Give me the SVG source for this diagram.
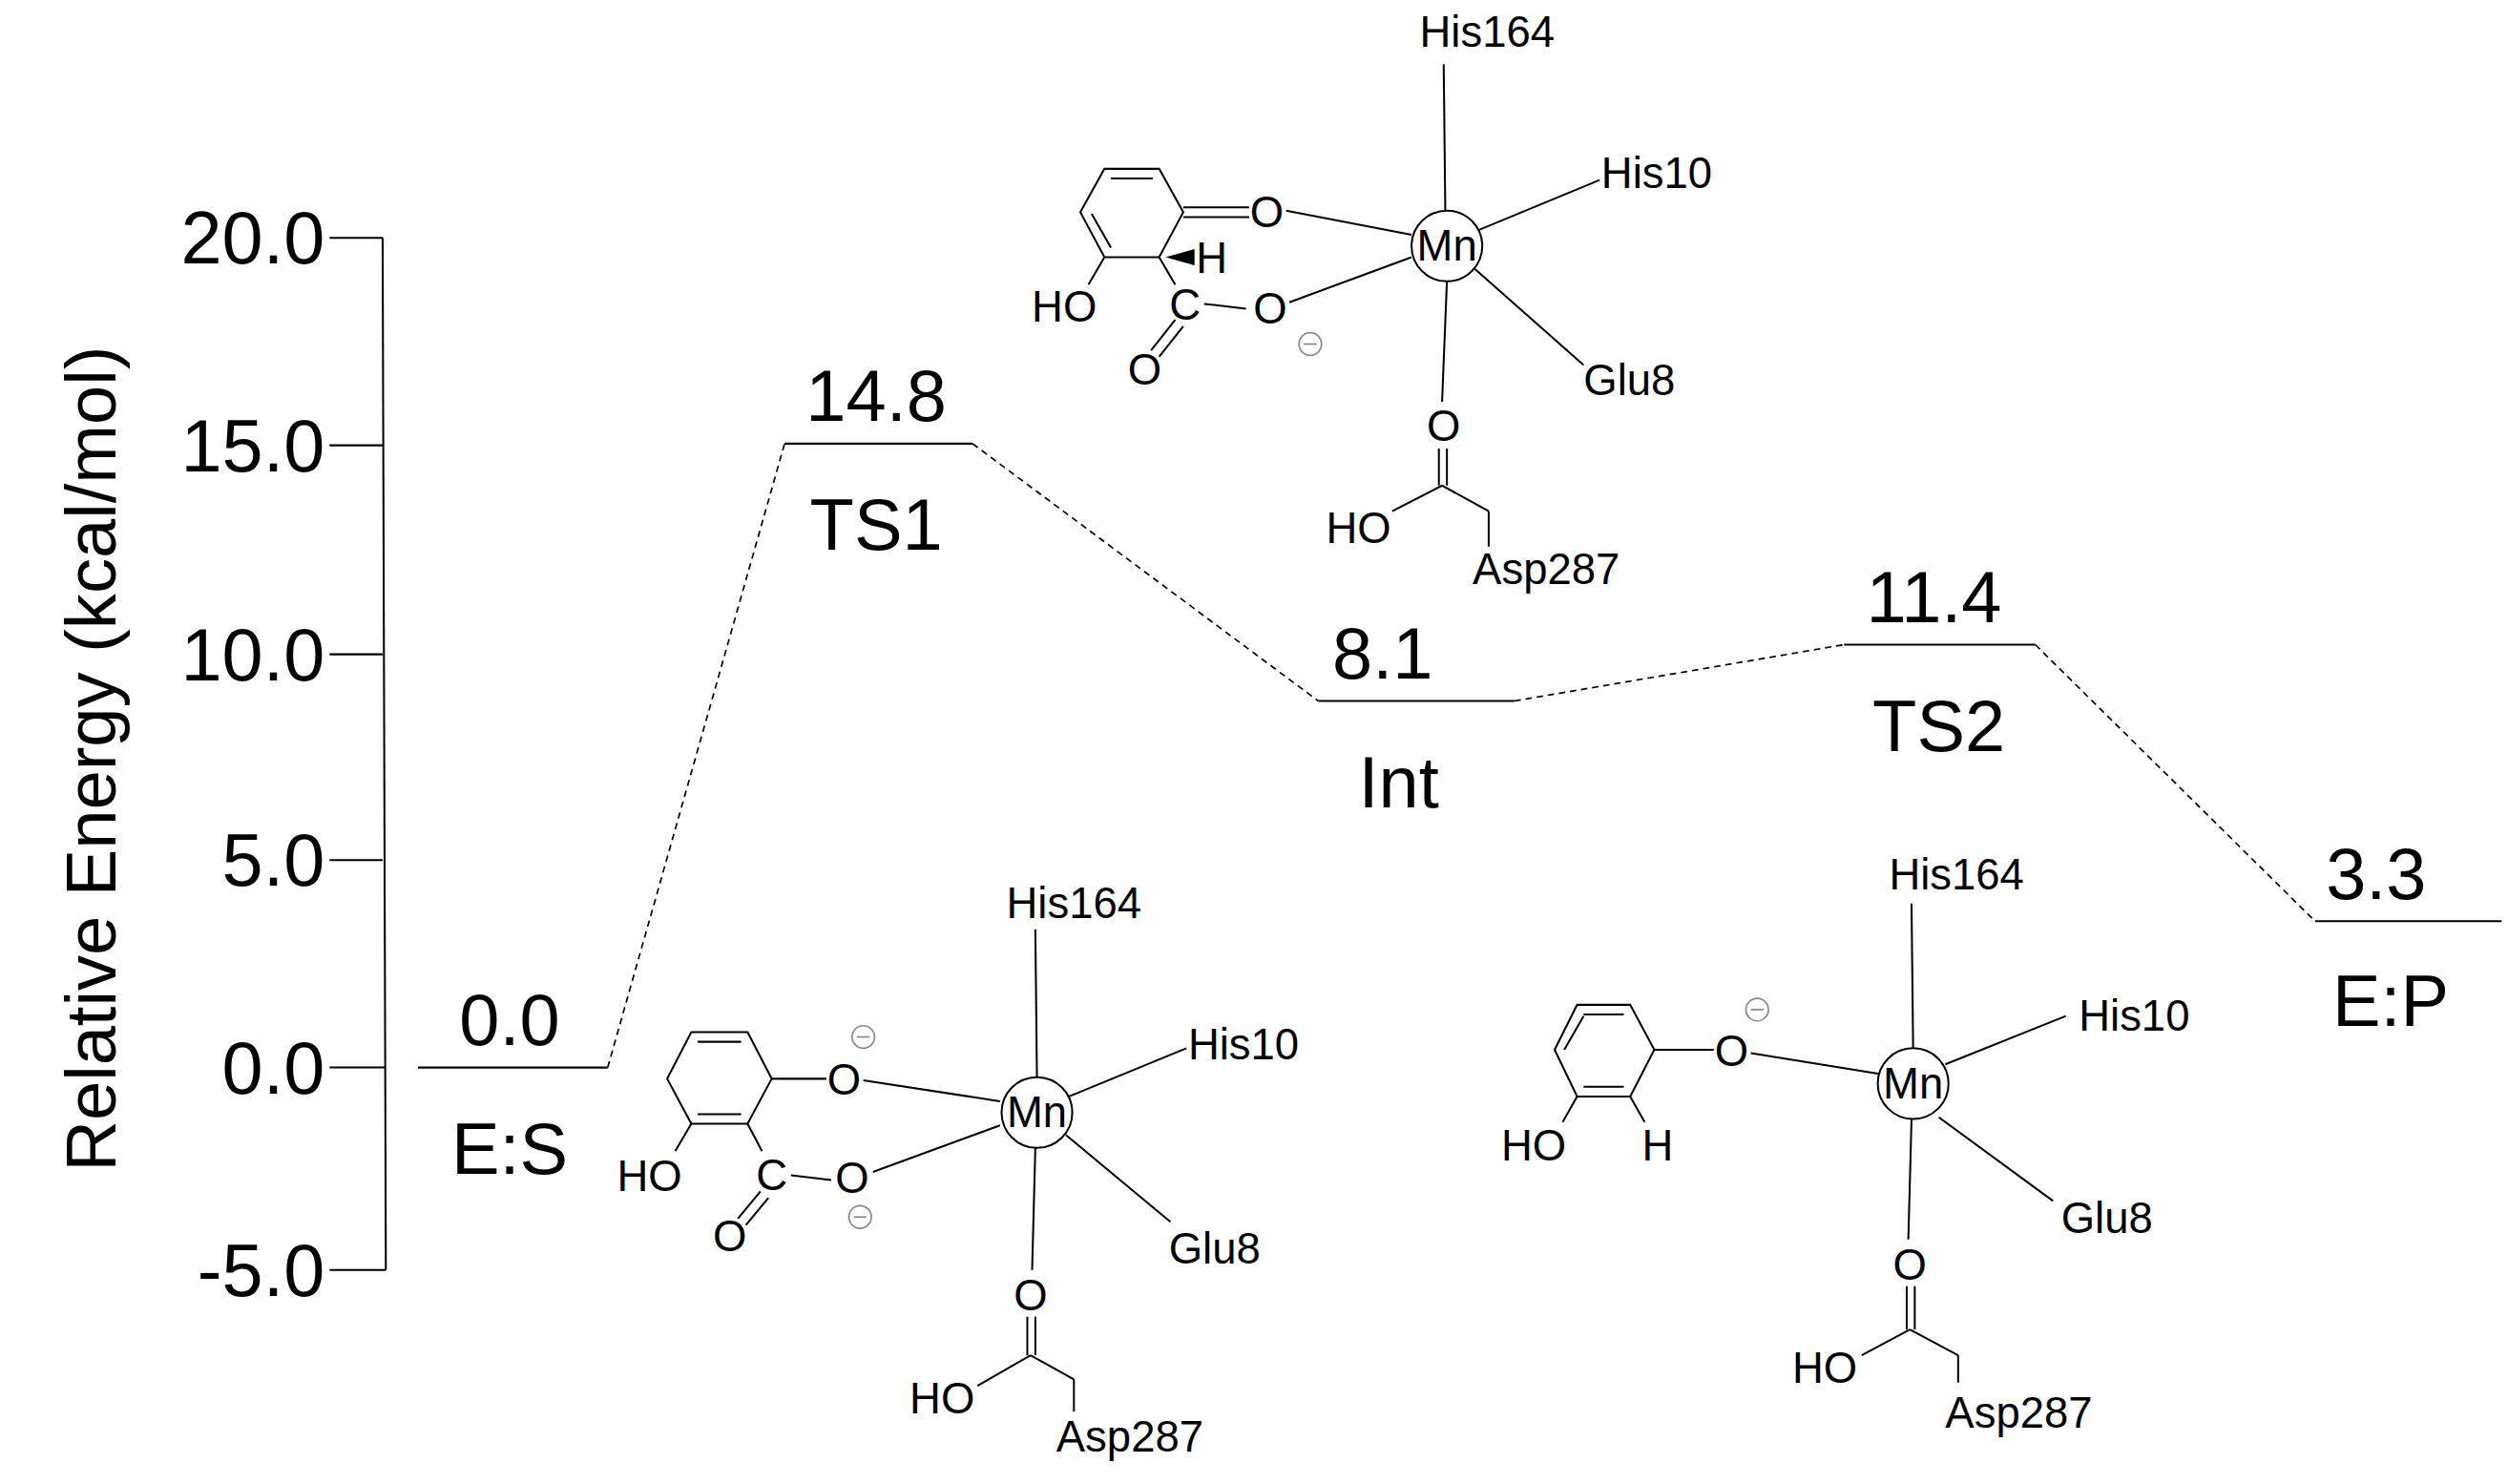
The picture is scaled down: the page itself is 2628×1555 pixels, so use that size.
<svg xmlns="http://www.w3.org/2000/svg" width="2628" height="1555" viewBox="0 0 2628 1555">
<style>
.t{font-family:"Liberation Sans",Arial,sans-serif;fill:#000}
.big{font-size:45px;text-anchor:middle}
.tick{font-size:46px;text-anchor:end}
.s{font-size:27px}
.m{font-size:27px;text-anchor:middle}
.ln{stroke:#000;stroke-width:1.2;fill:none}
.lv{stroke:#000;stroke-width:1.3}
.ds{stroke:#000;stroke-width:1;stroke-dasharray:4 3;fill:none}
.neg{fill:#fff;stroke:#888;stroke-width:1}
.negt{stroke:#888;stroke-width:1}
</style>
<rect width="2628" height="1555" fill="#fff"/>
<g transform="scale(1.6846)">
<g id="axis">
<line class="ln" x1="238" y1="148" x2="240" y2="790"/>
<line class="ln" x1="205" y1="148" x2="238" y2="148"/>
<line class="ln" x1="205" y1="277" x2="238" y2="277"/>
<line class="ln" x1="205" y1="407" x2="238" y2="407"/>
<line class="ln" x1="205" y1="535" x2="238" y2="535"/>
<line class="ln" x1="205" y1="664" x2="240" y2="664"/>
<line class="ln" x1="205" y1="790" x2="240" y2="790"/>
<text class="t tick" x="202" y="164">20.0</text>
<text class="t tick" x="202" y="293">15.0</text>
<text class="t tick" x="202" y="423">10.0</text>
<text class="t tick" x="202" y="551">5.0</text>
<text class="t tick" x="202" y="680">0.0</text>
<text class="t tick" x="202" y="806">-5.0</text>
<text class="t" font-size="44" text-anchor="middle" transform="translate(72,472) rotate(-90)">Relative Energy (kcal/mol)</text>
</g>
<g id="connectors">
<line class="ds" x1="378" y1="664" x2="488" y2="276"/>
<line class="ds" x1="605" y1="276" x2="820" y2="436"/>
<line class="ds" x1="942" y1="436" x2="1147" y2="401"/>
<line class="ds" x1="1266" y1="401" x2="1440" y2="573"/>
</g>
<g id="ES"><line class="lv" x1="260" y1="664" x2="378" y2="664"/><text class="t big" x="317" y="650">0.0</text><text class="t big" x="317" y="730">E:S</text></g>
<g id="TS1"><line class="lv" x1="488" y1="276" x2="605" y2="276"/><text class="t big" x="545" y="262">14.8</text><text class="t big" x="545" y="342">TS1</text></g>
<g id="Int"><line class="lv" x1="820" y1="436" x2="942" y2="436"/><text class="t big" x="860" y="422">8.1</text><text class="t big" x="870" y="502">Int</text></g>
<g id="TS2"><line class="lv" x1="1147" y1="401" x2="1266" y2="401"/><text class="t big" x="1203" y="387">11.4</text><text class="t big" x="1206" y="467">TS2</text></g>
<g id="EP"><line class="lv" x1="1440" y1="573" x2="1556" y2="573"/><text class="t big" x="1478" y="559">3.3</text><text class="t big" x="1487" y="638">E:P</text></g>

<g id="struct-int">
<polygon class="ln" points="687,105 721,105 736,132 721,160 687,160 672,132"/>
<line class="ln" x1="691" y1="111" x2="717" y2="111"/>
<line class="ln" x1="679" y1="133" x2="691" y2="154"/>
<line class="ln" x1="736" y1="129" x2="777" y2="129"/>
<line class="ln" x1="736" y1="135" x2="777" y2="135"/>
<text class="t m" x="788" y="141">O</text>
<line class="ln" x1="800" y1="131" x2="878" y2="146"/>
<polygon points="725,160 743,155 743,165" fill="#000"/>
<text class="t s" x="744" y="170">H</text>
<line class="ln" x1="721" y1="160" x2="731" y2="177"/>
<text class="t m" x="737" y="199">C</text>
<line class="ln" x1="749" y1="189" x2="775" y2="192"/>
<text class="t m" x="790" y="201">O</text>
<line class="ln" x1="802" y1="188" x2="878" y2="160"/>
<circle class="neg" cx="815" cy="214" r="7"/><line class="negt" x1="811" y1="214" x2="819" y2="214"/>
<line class="ln" x1="731" y1="199" x2="716" y2="218"/>
<line class="ln" x1="736" y1="203" x2="721" y2="222"/>
<text class="t m" x="712" y="239">O</text>
<line class="ln" x1="687" y1="160" x2="677" y2="177"/>
<text class="t m" x="662" y="200">HO</text>
<circle cx="900" cy="153" r="22" fill="#fff" class="ln"/>
<text class="t m" x="900" y="162">Mn</text>
<line class="ln" x1="898" y1="40" x2="899" y2="131"/>
<text class="t m" x="925" y="29">His164</text>
<line class="ln" x1="920" y1="143" x2="995" y2="112"/>
<text class="t s" x="996" y="117">His10</text>
<line class="ln" x1="917" y1="167" x2="985" y2="227"/>
<text class="t s" x="985" y="246">Glu8</text>
<line class="ln" x1="900" y1="175" x2="897" y2="250"/>
<text class="t m" x="898" y="274">O</text>
<line class="ln" x1="895" y1="279" x2="895" y2="302"/>
<line class="ln" x1="900" y1="279" x2="900" y2="302"/>
<line class="ln" x1="897" y1="302" x2="866" y2="318"/>
<text class="t m" x="845" y="338">HO</text>
<line class="ln" x1="897" y1="302" x2="926" y2="318"/>
<line class="ln" x1="926" y1="318" x2="926" y2="340"/>
<text class="t s" x="916" y="363">Asp287</text>
</g>

<g id="struct-es">
<polygon class="ln" points="430,642 465,642 480,671 465,699 430,699 415,671"/>
<line class="ln" x1="434" y1="648" x2="461" y2="648"/>
<line class="ln" x1="434" y1="693" x2="461" y2="693"/>
<line class="ln" x1="480" y1="671" x2="514" y2="671"/>
<text class="t m" x="525" y="681">O</text>
<circle class="neg" cx="537" cy="645" r="7"/><line class="negt" x1="533" y1="645" x2="541" y2="645"/>
<line class="ln" x1="537" y1="672" x2="622" y2="685"/>
<line class="ln" x1="465" y1="699" x2="474" y2="716"/>
<text class="t m" x="480" y="740">C</text>
<line class="ln" x1="492" y1="731" x2="517" y2="734"/>
<text class="t m" x="530" y="742">O</text>
<circle class="neg" cx="535" cy="757" r="7"/><line class="negt" x1="531" y1="757" x2="539" y2="757"/>
<line class="ln" x1="543" y1="729" x2="622" y2="700"/>
<line class="ln" x1="473" y1="741" x2="459" y2="758"/>
<line class="ln" x1="478" y1="745" x2="464" y2="762"/>
<text class="t m" x="454" y="778">O</text>
<line class="ln" x1="430" y1="699" x2="420" y2="716"/>
<text class="t m" x="404" y="741">HO</text>
<circle cx="645" cy="692" r="22" fill="#fff" class="ln"/>
<text class="t m" x="645" y="701">Mn</text>
<line class="ln" x1="644" y1="578" x2="645" y2="670"/>
<text class="t m" x="668" y="571">His164</text>
<line class="ln" x1="665" y1="682" x2="738" y2="652"/>
<text class="t s" x="739" y="659">His10</text>
<line class="ln" x1="663" y1="706" x2="728" y2="760"/>
<text class="t s" x="727" y="786">Glu8</text>
<line class="ln" x1="644" y1="714" x2="642" y2="790"/>
<text class="t m" x="641" y="815">O</text>
<line class="ln" x1="639" y1="819" x2="639" y2="843"/>
<line class="ln" x1="644" y1="819" x2="644" y2="843"/>
<line class="ln" x1="641" y1="843" x2="608" y2="862"/>
<text class="t m" x="586" y="879">HO</text>
<line class="ln" x1="641" y1="843" x2="668" y2="858"/>
<line class="ln" x1="668" y1="858" x2="668" y2="878"/>
<text class="t s" x="657" y="903">Asp287</text>
</g>

<g id="struct-ep">
<polygon class="ln" points="981,625 1014,625 1029,653 1014,682 981,682 967,653"/>
<line class="ln" x1="985" y1="631" x2="1010" y2="631"/>
<line class="ln" x1="985" y1="676" x2="1010" y2="676"/>
<line class="ln" x1="973" y1="653" x2="985" y2="632"/>
<line class="ln" x1="1029" y1="653" x2="1066" y2="653"/>
<text class="t m" x="1077" y="663">O</text>
<circle class="neg" cx="1093" cy="628" r="7"/><line class="negt" x1="1089" y1="628" x2="1097" y2="628"/>
<line class="ln" x1="1089" y1="655" x2="1169" y2="668"/>
<line class="ln" x1="1014" y1="682" x2="1023" y2="698"/>
<text class="t m" x="1031" y="722">H</text>
<line class="ln" x1="981" y1="682" x2="972" y2="698"/>
<text class="t m" x="954" y="722">HO</text>
<circle cx="1190" cy="674" r="22" fill="#fff" class="ln"/>
<text class="t m" x="1190" y="683">Mn</text>
<line class="ln" x1="1189" y1="562" x2="1190" y2="652"/>
<text class="t m" x="1217" y="553">His164</text>
<line class="ln" x1="1210" y1="662" x2="1285" y2="632"/>
<text class="t s" x="1293" y="641">His10</text>
<line class="ln" x1="1206" y1="695" x2="1277" y2="747"/>
<text class="t s" x="1282" y="767">Glu8</text>
<line class="ln" x1="1189" y1="696" x2="1187" y2="771"/>
<text class="t m" x="1188" y="796">O</text>
<line class="ln" x1="1186" y1="800" x2="1186" y2="827"/>
<line class="ln" x1="1191" y1="800" x2="1191" y2="827"/>
<line class="ln" x1="1188" y1="827" x2="1158" y2="843"/>
<text class="t m" x="1135" y="860">HO</text>
<line class="ln" x1="1188" y1="827" x2="1218" y2="843"/>
<line class="ln" x1="1218" y1="843" x2="1218" y2="860"/>
<text class="t s" x="1210" y="888">Asp287</text>
</g>
</g>
</svg>
